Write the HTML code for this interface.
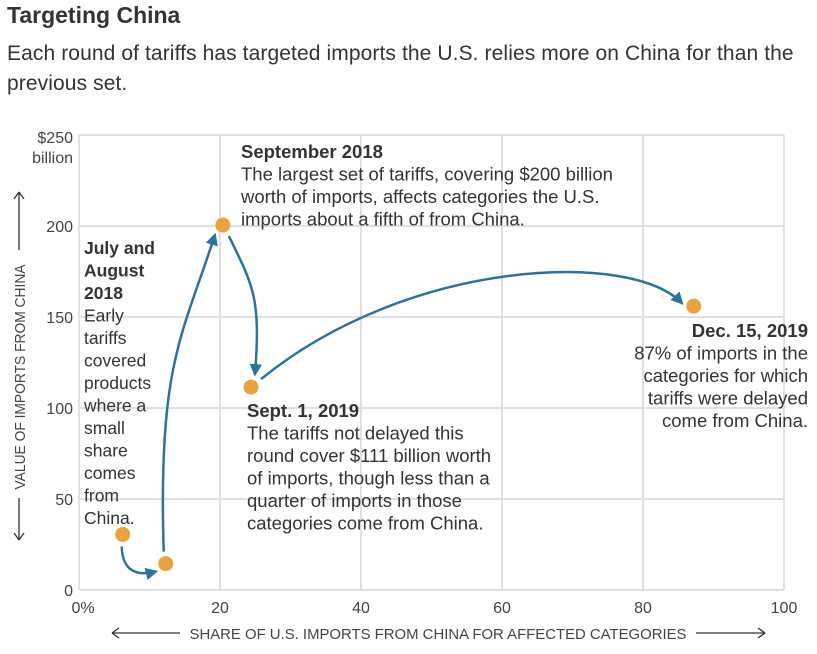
<!DOCTYPE html>
<html><head><meta charset="utf-8">
<style>
body{margin:0;background:#fff;width:817px;height:654px;overflow:hidden;font-family:"Liberation Sans",sans-serif;color:#333}
svg text{font-family:"Liberation Sans",sans-serif}
</style></head><body>
<div style="position:absolute;left:7px;top:2px;font-size:23px;font-weight:bold;color:#333">Targeting China</div>
<div style="position:absolute;left:7px;top:39px;width:810px;font-size:21px;letter-spacing:0.1px;line-height:30px;color:#333">Each round of tariffs has targeted imports the U.S. relies more on China for than the previous set.</div>
<svg id="chart" width="817" height="654" style="position:absolute;left:0;top:0"></svg>
<script>
const xTicks=[0,20,40,60,80,100];
const xTickLabels=["0%","20","40","60","80","100"];
const yTicks=[0,50,100,150,200,250];
const yTickLabels=["0","50","100","150","200","$250"];
const shareValues=[6.2,12.3,20.4,24.4,87.2];
const importValues=[30.5,14.5,200.5,111.5,156];
const NS="http://www.w3.org/2000/svg";
const svg=document.getElementById('chart');
const X0=79,X1=784,Y0=590,Y1=135;
const sx=v=>X0+(v/100)*(X1-X0);
const sy=v=>Y0-(v/250)*(Y0-Y1);
function el(t,a,p){const e=document.createElementNS(NS,t);for(const k in a)e.setAttribute(k,a[k]);(p||svg).appendChild(e);return e;}
const defs=el('defs',{});
const m=el('marker',{id:'ah',viewBox:'0 0 10 10',refX:'8',refY:'5',markerWidth:'5',markerHeight:'5',orient:'auto'},defs);
el('path',{d:'M0,0 L10,5 L0,10 z',fill:'#2a73a0'},m);
xTicks.forEach((t,i)=>{
  const g=el('line',{x1:sx(t),x2:sx(t),y1:Y1,y2:Y0,stroke:'#e0e0e0','stroke-width':2});
  
  
  const tx=el('text',{x:sx(t)+(i==0?4:0),y:613,'text-anchor':'middle','font-size':16,fill:'#444'});
  tx.textContent=xTickLabels[i];
  
  
});
yTicks.forEach((t,i)=>{
  const g=el('line',{x1:X0,x2:X1,y1:sy(t),y2:sy(t),stroke:'#e0e0e0','stroke-width':2});
  
  
  const tx=el('text',{x:73,y:sy(t)+(i==yTicks.length-1?8:6),'text-anchor':'end','font-size':16,fill:'#444'});
  tx.textContent=yTickLabels[i];
  
  
});
const bl=el('text',{x:73,y:163,'text-anchor':'end','font-size':16,fill:'#444'});bl.textContent='billion';


const P=shareValues.map((v,i)=>[sx(v),sy(importValues[i])]);
const arrows=[
 `M${P[0][0]-1},${P[0][1]+12} Q${P[0][0]},${P[1][1]+16} ${P[1][0]-10},${P[1][1]+8}`,
 `M${P[1][0]-2},${P[1][1]-12} C${P[1][0]-8},${P[1][1]-200} ${P[2][0]-40},${P[2][1]+110} ${P[2][0]-8},${P[2][1]+10}`,
 `M${P[2][0]+6},${P[2][1]+11} C${P[2][0]+30},${P[2][1]+60} ${P[3][0]+10},${P[3][1]-90} ${P[3][0]+4},${P[3][1]-13}`,
 `M${P[3][0]+10},${P[3][1]-8} C${P[3][0]+160},${P[3][1]-130} ${P[4][0]-60},${P[4][1]-55} ${P[4][0]-12},${P[4][1]-3}`
];
arrows.forEach(d=>{const a=el('path',{d:d,fill:'none',stroke:'#2a73a0','stroke-width':2.5,'marker-end':'url(#ah)'});
 
 });
P.forEach(p=>{const c=el('circle',{cx:p[0],cy:p[1],r:7.5,fill:'#eaa23d'});
 
 });
function ann(x,y,lines,anchor,name,fs){const t=el('text',{x:x,y:y,'text-anchor':anchor||'start','font-size':fs||18.5,fill:'#333'});
 
 
 lines.forEach((l,i)=>{const s=el('tspan',{x:x,dy:i?22.5:0},t);if(l[0]=='*'){s.setAttribute('font-weight','bold');s.textContent=l.slice(1);}else s.textContent=l;});}
ann(84,254,['*July and','*August','*2018','Early','tariffs','covered','products','where a','small','share','comes','from','China.'],'start','annotation-july-august-2018',17.5);
ann(241,158,['*September 2018','The largest set of tariffs, covering $200 billion','worth of imports, affects categories the U.S.','imports about a fifth of from China.'],'start','annotation-september-2018');
ann(247,417,['*Sept. 1, 2019','The tariffs not delayed this','round cover $111 billion worth','of imports, though less than a','quarter of imports in those','categories come from China.'],'start','annotation-sept-2019');
ann(808,337,['*Dec. 15, 2019','87% of imports in the','categories for which','tariffs were delayed','come from China.'],'end','annotation-dec-2019');
const xt=el('text',{x:438,y:639,'text-anchor':'middle','font-size':15,fill:'#444',textLength:497,lengthAdjust:'spacingAndGlyphs'});xt.textContent='SHARE OF U.S. IMPORTS FROM CHINA FOR AFFECTED CATEGORIES';


el('path',{d:'M112,633 H180 M112,633 l7,-5 M112,633 l7,5',stroke:'#333','stroke-width':1.3,fill:'none'});
el('path',{d:'M696,633 H765 M765,633 l-7,-5 M765,633 l-7,5',stroke:'#333','stroke-width':1.3,fill:'none'});
const yt=el('text',{x:0,y:0,'text-anchor':'middle','font-size':15,fill:'#444',transform:'translate(25,377) rotate(-90)',textLength:225,lengthAdjust:'spacingAndGlyphs'});yt.textContent='VALUE OF IMPORTS FROM CHINA';


el('path',{d:'M19,192 V250 M19,192 l-5,7 M19,192 l5,7',stroke:'#333','stroke-width':1.3,fill:'none'});
el('path',{d:'M19,498 V540 M19,540 l-5,-7 M19,540 l5,-7',stroke:'#333','stroke-width':1.3,fill:'none'});
</script>
</body></html>
